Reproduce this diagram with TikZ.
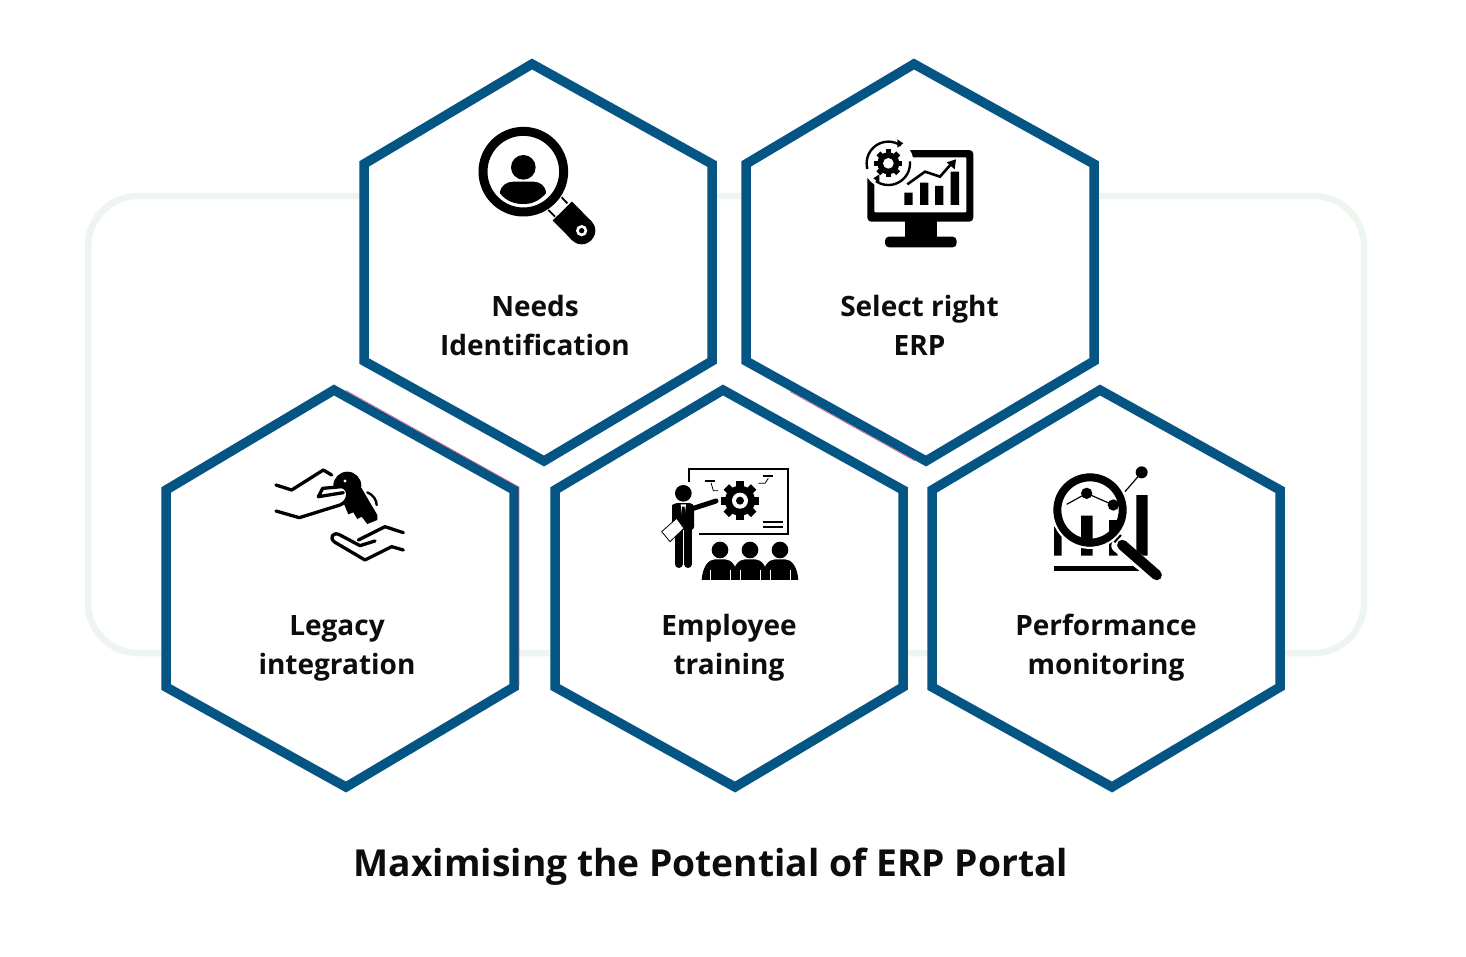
\documentclass[tikz,border=0pt]{standalone}
\usepackage{fontspec}
\setmainfont{Open Sans}
\definecolor{hexblue}{HTML}{055584}
\definecolor{palegreen}{HTML}{EDF5EE}
\definecolor{pinkedge}{HTML}{D0608C}
\tikzset{
  x=1pt,y=-1pt,
  hexa/.style={draw=hexblue,line width=9.5pt,fill=white,line join=miter},
  lab/.style={align=center,inner sep=0pt,font=\bfseries\fontsize{28}{39}\selectfont,text=black!95},
  ttl/.style={inner sep=0pt,font=\bfseries\fontsize{37.2}{44}\selectfont,text=black!95},
  ic/.style={line width=3.3pt,line cap=round,line join=round},
  pinkline/.style={pinkedge,line width=0.7pt},
}
\newcommand{\hexagonat}[2]{% top apex x, top apex y
  \path[hexa] (#1,#2) -- ++(180,100) -- ++(0,197) -- ++(-168,100) -- ++(-180,-100) -- ++(0,-197) -- cycle;}
\newcommand{\gearshape}[4]{% cx cy router rinner
  \fill (#1,#2) circle (#4);
  \foreach \a in {0,45,...,315}{
    \fill[rotate around={\a:(#1,#2)}] ({#1-0.2*#3},{#2-#3}) rectangle ({#1+0.2*#3},{#2-0.6*#3});}
}
\begin{document}
\begin{tikzpicture}
\useasboundingbox (0,0) rectangle (1466,956);
\fill[white] (0,0) rectangle (1466,956);
\draw[palegreen,line width=6.5pt,rounded corners=50pt] (88,196) rectangle (1364,653);
\hexagonat{532}{64}
\hexagonat{914}{64}
\hexagonat{334}{390}
\hexagonat{723}{390}
\hexagonat{1100}{390}
\draw[pinkline] (346,390.5)--(519,487)--(519,686);
\draw[pinkline] (790,391.6)--(915,461);

\node[lab] (needs) at (535,325) {Needs\\Identification};
\node[lab] (select) at (919.5,325) {Select right\\ERP};
\node[lab] (legacy) at (337,648) {Legacy\\integration};
\node[lab] (employee) at (729,647.5) {Employee\\training};
\node[lab] (perf) at (1106,647.5) {Performance\\monitoring};
\node[ttl] (title) at (711,867) {Maximising the Potential of ERP Portal};

% Icon 1: person in magnifier
\begin{scope}[shift={(460,110)},x=0.3333pt,y=-0.3333pt]
  \draw[line width=1.8pt] (305,262)--(322,280) (265,300)--(285,320);
  \draw[line width=9pt] (190,185) circle (121);
  \fill (190,172) circle (37);
  \fill (120,250) .. controls (120,228) and (140,215) .. (160,215) -- (220,215) .. controls (240,215) and (258,228) .. (258,250) .. controls (235,275) and (215,282) .. (190,282) .. controls (165,282) and (140,275) .. (120,250) -- cycle;
  \draw[line width=27pt] (307,303)--(365,362);
  \fill (365,362) circle (41);
  \fill[white] (365,362) circle (17);
  \fill (365,362) circle (8);
\end{scope}

% Icon 2: monitor
\begin{scope}[shift={(850,125)},x=0.3333pt,y=-0.3333pt]
  \fill[rounded corners=4pt] (52,75) rectangle (370,290);
  \fill[white,rounded corners=1pt] (73,97) rectangle (349,262);
  \fill (165,285) rectangle (262,340);
  \fill[rounded corners=4pt] (105,367) -- (105,335) -- (320,335) -- (320,367) -- cycle;
  \fill (163,203) rectangle (188,240) (210,173) rectangle (235,240) (255,183) rectangle (280,240) (302,140) rectangle (327,240);
  \draw[line width=2.6pt,line join=miter] (172,178)--(225,140)--(270,155)--(305,115);
  \fill (318,103)--(290,112)--(314,133)--cycle;
  \fill[white] (115,115) circle (76);
  \draw[line width=2.4pt] plot[domain=-55:-195,samples=40] ({115+65*cos(\x)},{115+65*sin(\x)});
  \draw[line width=2.4pt] plot[domain=125:-5,samples=40] ({115+65*cos(\x)},{115+65*sin(\x)});
  \fill (160,55)--(142,43)--(142,68)--cycle;
  \fill (70,160)--(88,148)--(88,173)--cycle;
  \gearshape{115}{115}{42}{33}
  \fill[white] (115,115) circle (16);
\end{scope}

% Icon 3: handing over a key
\begin{scope}[shift={(260,455)},x=0.3333pt,y=-0.3333pt]
  \draw[ic] (48,90)--(95,105)--(190,45)--(215,60);
  \fill (262,92) circle (42);
  \fill (280,80) -- (305,100) -- (352,180) -- (352,195) -- (322,207) -- (305,185) -- (292,192) -- (280,172) -- (265,178) -- (245,130) -- cycle;
  \fill[white] (118,188)--(240,150) .. controls (268,140) and (272,100) .. (245,95) -- (188,100) -- (175,125) -- cycle;
  \draw[ic] (48,168)--(118,188)--(240,150) .. controls (268,140) and (272,100) .. (245,95) -- (188,100) -- (175,125) -- (250,113);
  \draw[ic] (430,233)--(375,215)--(295,255) (430,285)--(395,275)--(315,315)--(225,262) .. controls (205,248) and (220,228) .. (240,240) -- (300,272)--(345,258);
  \fill[white] (255,78) circle (5);
  \draw[line width=2.4pt,line cap=round] (322,112) .. controls (340,120) and (350,135) .. (350,150);
\end{scope}

% Icon 4: presenter and audience
\begin{scope}[shift={(650,460)},x=0.3333pt,y=-0.3333pt]
  \draw[line width=1.7pt] (118,65)--(118,28)--(415,28)--(415,222)--(148,222);
  \draw[line width=2.2pt] (165,63)--(195,63) (338,48)--(370,48) (338,187)--(398,187) (338,200)--(398,200);
  \draw[line width=0.8pt] (183,68)--(190,92)--(205,92) (355,55)--(345,70)--(325,70);
  \gearshape{270}{122}{58}{45}
  \fill[white] (270,122) circle (24);
  \fill (270,122) circle (12);
  \fill (100,100) circle (25);
  \draw[line width=5pt,line cap=round] (130,145)--(198,123);
  \fill[rounded corners=3pt] (66,210)--(66,145) .. controls (66,135) and (76,129) .. (90,129) -- (110,129) .. controls (125,129) and (132,135) .. (132,150) -- (132,210) -- cycle;
  \draw[line width=8pt,line cap=round] (86,205)--(86,312) (114,205)--(114,312);
  \fill[white] (92,133)--(108,133)--(100,200)--cycle;
  \fill (96,140)--(104,140)--(106,188)--(100,198)--(94,188)--cycle;
  \filldraw[fill=white,draw=black,line width=0.8pt] (35,215)--(80,175)--(102,205)--(60,245)--cycle;
  \foreach \hx in {210,300,390}{
    \fill (\hx,270) circle (25);
    \fill (\hx-55,360) .. controls (\hx-52,320) and (\hx-35,298) .. (\hx-15,298) -- (\hx+15,298) .. controls (\hx+35,298) and (\hx+52,320) .. (\hx+55,360) -- cycle;
  }
  \draw[white,line width=0.9pt] (180,330)--(180,360) (240,330)--(240,360) (270,330)--(270,360) (330,330)--(330,360) (360,330)--(360,360) (420,330)--(420,360);
\end{scope}

% Icon 5: magnifier over chart
\begin{scope}[shift={(1035,455)},x=0.3333pt,y=-0.3333pt]
  \fill (57,215) rectangle (80,302) (138,182) rectangle (173,302) (222,195) rectangle (248,302) (304,120) rectangle (338,302);
  \fill (57,333) rectangle (312,347);
  \draw[line width=1.2pt] (95,148)--(155,115)--(235,150) (270,110)--(320,52);
  \fill (155,115) circle (17) (235,150) circle (17) (320,52) circle (18);
  \draw[white,line width=2.5pt] (165,165) circle (113);
  \draw[line width=8pt] (165,165) circle (98);
  \draw[white,line width=14pt,line cap=round] (250,272)--(365,360);
  \draw[line width=2pt] (238,262)--(258,240);
  \draw[line width=10.5pt,line cap=round] (262,270)--(365,360);
\end{scope}
\end{tikzpicture}
\end{document}
